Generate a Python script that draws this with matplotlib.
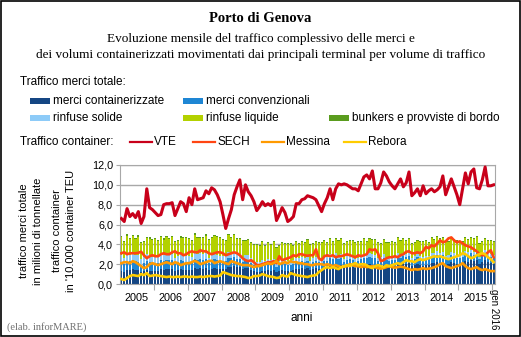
import numpy as np
import matplotlib
matplotlib.use("Agg")
import matplotlib.pyplot as plt
from matplotlib.patches import Rectangle
from matplotlib.lines import Line2D

# anni sull'asse x (etichette centrate sull'anno)
years = ["2005", "2006", "2007", "2008", "2009", "2010",
         "2011", "2012", "2013", "2014", "2015"]
last_label = "gen 2016"

# traffico merci totale, milioni di tonnellate (gen 2005 - gen 2016)
containerizzate = [
    1.3, 1.2, 1.4, 1.4, 1.5, 1.4, 1.4, 1.2, 1.3, 1.4, 1.3, 1.3,
    1.3, 1.3, 1.5, 1.4, 1.5, 1.5, 1.5, 1.3, 1.4, 1.5, 1.4, 1.4,
    1.4, 1.4, 1.6, 1.5, 1.6, 1.5, 1.6, 1.4, 1.5, 1.6, 1.5, 1.5,
    1.5, 1.5, 1.7, 1.7, 1.8, 1.7, 1.7, 1.5, 1.6, 1.6, 1.4, 1.3,
    1.2, 1.2, 1.3, 1.3, 1.4, 1.3, 1.4, 1.2, 1.3, 1.4, 1.3, 1.3,
    1.3, 1.4, 1.5, 1.5, 1.6, 1.5, 1.6, 1.4, 1.5, 1.6, 1.5, 1.5,
    1.6, 1.6, 1.8, 1.8, 1.9, 1.8, 1.9, 1.6, 1.7, 1.8, 1.7, 1.6,
    1.7, 1.8, 1.9, 1.9, 2.0, 1.9, 1.9, 1.7, 1.8, 1.9, 1.8, 1.7,
    1.8, 1.8, 2.0, 1.9, 2.1, 2.0, 2.1, 1.8, 1.9, 2.0, 1.9, 1.8,
    1.9, 1.9, 2.1, 2.1, 2.2, 2.1, 2.2, 1.9, 2.0, 2.2, 2.1, 2.0,
    2.0, 2.1, 2.3, 2.2, 2.4, 2.3, 2.4, 2.0, 2.2, 2.4, 2.2, 2.1,
    2.0]
convenzionali = [
    0.9, 0.8, 0.9, 0.9, 0.9, 0.9, 0.8, 0.7, 0.8, 0.9, 0.9, 0.8,
    0.8, 0.8, 0.9, 0.9, 0.9, 0.9, 0.9, 0.7, 0.8, 0.9, 0.9, 0.8,
    0.8, 0.8, 0.9, 0.9, 0.9, 0.9, 0.9, 0.7, 0.9, 0.9, 0.9, 0.8,
    0.8, 0.8, 0.9, 0.9, 0.9, 0.8, 0.8, 0.7, 0.8, 0.8, 0.7, 0.6,
    0.6, 0.6, 0.7, 0.6, 0.7, 0.7, 0.7, 0.5, 0.6, 0.7, 0.7, 0.6,
    0.6, 0.6, 0.7, 0.7, 0.7, 0.7, 0.7, 0.6, 0.7, 0.7, 0.7, 0.6,
    0.7, 0.7, 0.8, 0.7, 0.8, 0.7, 0.7, 0.6, 0.7, 0.7, 0.7, 0.6,
    0.6, 0.7, 0.7, 0.7, 0.7, 0.7, 0.7, 0.6, 0.6, 0.7, 0.6, 0.6,
    0.6, 0.6, 0.7, 0.7, 0.7, 0.7, 0.7, 0.5, 0.6, 0.7, 0.6, 0.6,
    0.6, 0.6, 0.7, 0.7, 0.7, 0.7, 0.7, 0.6, 0.6, 0.7, 0.7, 0.6,
    0.6, 0.6, 0.7, 0.7, 0.7, 0.6, 0.7, 0.5, 0.6, 0.7, 0.6, 0.6,
    0.6]
rinfuse_solide = [
    0.7, 0.6, 0.7, 0.6, 0.7, 0.6, 0.7, 0.6, 0.6, 0.7, 0.6, 0.6,
    0.6, 0.6, 0.6, 0.6, 0.7, 0.6, 0.6, 0.6, 0.6, 0.6, 0.6, 0.6,
    0.6, 0.5, 0.6, 0.6, 0.6, 0.6, 0.6, 0.5, 0.6, 0.6, 0.5, 0.5,
    0.5, 0.5, 0.6, 0.5, 0.6, 0.5, 0.5, 0.5, 0.5, 0.5, 0.5, 0.4,
    0.4, 0.4, 0.4, 0.4, 0.4, 0.4, 0.4, 0.3, 0.4, 0.4, 0.4, 0.4,
    0.4, 0.4, 0.4, 0.4, 0.4, 0.4, 0.4, 0.3, 0.4, 0.4, 0.4, 0.4,
    0.4, 0.4, 0.4, 0.4, 0.4, 0.4, 0.4, 0.3, 0.4, 0.4, 0.4, 0.3,
    0.3, 0.4, 0.4, 0.3, 0.4, 0.4, 0.3, 0.3, 0.3, 0.4, 0.3, 0.3,
    0.3, 0.3, 0.4, 0.3, 0.3, 0.3, 0.3, 0.3, 0.3, 0.3, 0.3, 0.3,
    0.3, 0.3, 0.3, 0.3, 0.4, 0.3, 0.3, 0.3, 0.3, 0.3, 0.3, 0.3,
    0.3, 0.3, 0.3, 0.3, 0.3, 0.3, 0.3, 0.2, 0.3, 0.3, 0.3, 0.3,
    0.3]
rinfuse_liquide = [
    1.8, 1.6, 1.8, 1.6, 1.7, 1.6, 1.8, 1.6, 1.5, 1.6, 1.7, 1.7,
    1.8, 1.6, 1.7, 1.5, 1.6, 1.5, 1.7, 1.6, 1.5, 1.6, 1.7, 1.8,
    1.7, 1.6, 1.8, 1.6, 1.5, 1.6, 1.7, 1.8, 1.6, 1.7, 1.8, 1.8,
    1.6, 1.5, 1.7, 1.5, 1.6, 1.5, 1.5, 1.6, 1.4, 1.5, 1.5, 1.6,
    1.7, 1.6, 1.8, 1.5, 1.6, 1.5, 1.7, 1.6, 1.5, 1.6, 1.6, 1.7,
    1.7, 1.4, 1.6, 1.4, 1.5, 1.5, 1.7, 1.6, 1.4, 1.5, 1.5, 1.6,
    1.6, 1.4, 1.5, 1.3, 1.4, 1.4, 1.5, 1.5, 1.4, 1.4, 1.5, 1.6,
    1.6, 1.3, 1.5, 1.3, 1.4, 1.4, 1.5, 1.5, 1.3, 1.4, 1.4, 1.5,
    1.5, 1.4, 1.5, 1.4, 1.4, 1.3, 1.4, 1.4, 1.3, 1.3, 1.4, 1.5,
    1.5, 1.3, 1.5, 1.3, 1.4, 1.4, 1.4, 1.4, 1.3, 1.3, 1.3, 1.4,
    1.3, 1.2, 1.3, 1.2, 1.2, 1.3, 1.3, 1.3, 1.1, 1.1, 1.2, 1.3,
    1.3]
bunkers = [
    0.15, 0.1, 0.2, 0.15, 0.1, 0.15, 0.2, 0.1, 0.15, 0.15, 0.2, 0.1,
    0.15, 0.1, 0.15, 0.2, 0.15, 0.1, 0.15, 0.1, 0.15, 0.2, 0.1, 0.15,
    0.15, 0.1, 0.2, 0.15, 0.1, 0.15, 0.2, 0.15, 0.1, 0.15, 0.15, 0.1,
    0.15, 0.1, 0.15, 0.15, 0.1, 0.15, 0.15, 0.1, 0.15, 0.1, 0.15, 0.1,
    0.1, 0.1, 0.15, 0.1, 0.1, 0.15, 0.1, 0.1, 0.15, 0.1, 0.1, 0.1,
    0.1, 0.1, 0.15, 0.1, 0.1, 0.15, 0.1, 0.1, 0.1, 0.15, 0.1, 0.1,
    0.1, 0.1, 0.15, 0.1, 0.1, 0.1, 0.15, 0.1, 0.1, 0.1, 0.15, 0.1,
    0.1, 0.1, 0.15, 0.1, 0.1, 0.1, 0.15, 0.1, 0.1, 0.1, 0.1, 0.15,
    0.1, 0.1, 0.15, 0.1, 0.1, 0.1, 0.15, 0.1, 0.1, 0.1, 0.1, 0.1,
    0.1, 0.1, 0.15, 0.1, 0.1, 0.1, 0.15, 0.1, 0.1, 0.1, 0.1, 0.1,
    0.1, 0.1, 0.15, 0.1, 0.1, 0.1, 0.1, 0.1, 0.1, 0.1, 0.1, 0.1,
    0.1]

# traffico container per terminal, in 10.000 TEU
vte = [
    6.6, 6.3, 7.6, 6.8, 7.1, 6.7, 7.3, 6.1, 6.8, 9.6, 7.7, 7.5,
    7.2, 6.9, 7.0, 8.0, 8.1, 8.1, 8.2, 6.9, 7.6, 8.3, 8.1, 7.3,
    8.7, 8.0, 9.6, 8.5, 8.6, 8.7, 9.4, 9.1, 9.7, 9.5, 9.0, 8.3,
    7.0, 5.6, 6.6, 7.5, 9.0, 9.8, 10.5, 8.5, 10.0, 9.3, 8.9, 8.3,
    7.4, 7.8, 8.3, 7.9, 8.1, 7.9, 8.4, 6.4, 7.0, 7.7, 7.2, 6.3,
    6.5, 6.8, 8.1, 8.1, 8.5, 8.6, 8.9, 8.8, 8.7, 8.5, 7.9, 7.3,
    8.1, 8.7, 9.6, 8.5, 9.6, 10.1, 10.0, 10.1, 10.0, 9.8, 9.6, 9.6,
    9.4, 10.1, 10.8, 11.0, 10.6, 11.4, 9.6, 9.6, 10.2, 11.3, 10.9, 10.3,
    9.9, 9.6, 10.1, 10.6, 9.8, 10.2, 11.3, 8.9, 9.2, 9.6, 8.9, 9.9,
    9.1, 9.4, 9.6, 9.3, 9.5, 9.8, 10.9, 9.0, 9.8, 10.6, 9.8, 9.0,
    8.0, 9.6, 11.2, 10.1, 11.3, 11.6, 9.7, 9.6, 10.5, 11.8, 9.9, 9.9,
    10.0]
sech = [
    3.1, 3.2, 3.0, 3.1, 3.1, 3.1, 3.15, 3.25, 2.9, 2.6, 2.8, 2.9,
    2.8, 2.8, 3.0, 3.1, 3.0, 3.0, 3.2, 3.3, 3.1, 3.1, 2.9, 3.0,
    3.2, 3.3, 3.2, 3.2, 3.4, 3.3, 3.3, 3.1, 3.0, 3.1, 3.2, 3.2,
    3.1, 2.9, 3.0, 3.1, 3.2, 3.1, 2.9, 2.6, 2.4, 2.3, 2.4, 2.2,
    1.9, 1.9, 2.0, 2.1, 2.2, 2.2, 2.3, 2.1, 2.8, 2.4, 2.5, 2.6,
    2.7, 2.9, 2.8, 3.0, 3.0, 2.9, 2.85, 2.9, 2.9, 3.5, 2.6, 2.4,
    2.8, 2.9, 2.8, 2.9, 2.7, 2.8, 2.8, 2.9, 3.0, 2.9, 2.8, 2.7,
    2.9, 2.8, 2.9, 3.0, 3.5, 3.4, 3.5, 3.1, 2.3, 2.4, 2.6, 2.7,
    2.7, 2.8, 2.7, 2.9, 3.0, 3.25, 3.3, 3.1, 3.1, 3.2, 3.1, 3.3,
    3.75, 3.6, 3.9, 3.8, 4.1, 4.4, 4.2, 4.3, 4.6, 4.7, 4.4, 4.2,
    4.3, 4.1, 3.9, 3.8, 3.7, 3.5, 3.3, 3.0, 2.9, 2.9, 3.2, 3.4,
    2.7]
messina = [
    2.1, 2.2, 2.2, 2.1, 2.3, 2.2, 2.0, 1.8, 1.6, 1.7, 2.0, 2.1,
    2.0, 1.9, 2.0, 2.1, 2.2, 2.1, 2.0, 2.2, 2.1, 1.9, 2.0, 2.1,
    2.1, 2.2, 2.35, 2.2, 2.0, 2.1, 2.2, 2.3, 2.35, 2.1, 2.2, 2.3,
    2.2, 2.1, 2.0, 2.3, 2.2, 2.1, 2.0, 1.9, 1.9, 1.9, 1.8, 1.7,
    1.8, 1.8, 1.9, 2.0, 2.1, 2.0, 2.1, 2.3, 2.0, 2.1, 2.2, 2.1,
    2.3, 2.2, 2.2, 2.1, 2.1, 2.0, 2.0, 1.9, 1.9, 2.0, 2.0, 2.0,
    1.9, 2.0, 1.9, 1.8, 1.9, 1.8, 1.7, 1.75, 1.8, 2.0, 1.9, 1.8,
    1.8, 1.7, 1.8, 1.7, 1.75, 1.8, 1.7, 1.6, 1.55, 1.6, 1.7, 1.8,
    1.7, 1.65, 1.7, 1.75, 1.7, 1.6, 1.5, 1.4, 1.5, 1.45, 1.5, 1.6,
    1.5, 1.55, 1.6, 1.7, 1.8, 2.0, 2.1, 1.8, 1.7, 1.6, 1.7, 1.8,
    1.9, 2.1, 1.8, 1.6, 1.5, 1.6, 1.7, 1.5, 1.4, 1.5, 1.4, 1.3,
    1.3]
rebora = [
    0.5, 0.4, 0.6, 0.8, 0.9, 0.85, 0.8, 1.0, 0.9, 1.1, 0.8, 0.85,
    0.9, 0.85, 0.8, 0.75, 0.7, 0.75, 0.7, 0.7, 0.75, 0.7, 0.75, 0.75,
    0.7, 0.75, 0.7, 0.7, 0.75, 0.7, 0.75, 0.8, 0.8, 0.75, 0.8, 0.85,
    1.2, 1.1, 1.0, 0.9, 0.85, 0.8, 0.8, 0.75, 0.7, 0.6, 0.65, 0.8,
    0.8, 0.85, 1.0, 0.9, 0.8, 0.75, 0.7, 0.6, 0.65, 0.9, 0.8, 0.75,
    1.1, 1.0, 0.9, 0.85, 0.8, 0.75, 0.7, 0.8, 0.85, 0.9, 1.2, 1.4,
    1.6, 1.7, 1.6, 1.7, 1.6, 1.5, 1.7, 1.8, 1.9, 1.8, 2.0, 2.1,
    1.9, 2.0, 2.0, 1.9, 1.7, 1.6, 1.8, 1.9, 1.8, 1.7, 1.9, 1.8,
    1.9, 2.0, 2.1, 2.0, 2.2, 2.4, 2.3, 2.3, 2.2, 2.4, 2.5, 2.4,
    2.5, 2.6, 2.7, 2.8, 2.75, 2.8, 2.7, 2.6, 2.5, 2.6, 2.7, 2.8,
    2.9, 3.1, 3.0, 2.8, 2.6, 2.7, 2.9, 3.0, 3.1, 3.0, 2.7, 2.5,
    2.2]

bar_series = [
    ("merci containerizzate", containerizzate, "#154683"),
    ("merci convenzionali", convenzionali, "#1E86D4"),
    ("rinfuse solide", rinfuse_solide, "#8DCBF8"),
    ("rinfuse liquide", rinfuse_liquide, "#B3D100"),
    ("bunkers e provviste di bordo", bunkers, "#5A9C1E"),
]
line_series = [
    ("VTE", vte, "#C8001A", 2.2),
    ("SECH", sech, "#FF4512", 1.9),
    ("Messina", messina, "#FF9A00", 1.9),
    ("Rebora", rebora, "#FFCC00", 1.9),
]

SANS = ["Liberation Sans", "DejaVu Sans"]
SERIF = ["Liberation Serif", "DejaVu Serif"]

fig = plt.figure(figsize=(5.21, 3.37), dpi=100)
W, H = 521.0, 337.0

def fx(px):
    return px / W

def fy(py):
    return 1 - py / H

# cornice esterna
fig.add_artist(Rectangle((fx(0.5), fy(335.5)), fx(519), 334.5 / H,
                         transform=fig.transFigure, fill=False,
                         edgecolor="black", linewidth=1.2))

ax = fig.add_axes([fx(120), fy(284), fx(495) - fx(120), fy(165) - fy(284)])

n = len(vte)
x = np.arange(n)
bottom = np.zeros(n)
for name, vals, col in bar_series:
    vals = np.array(vals)
    ax.bar(x, vals, bottom=bottom, width=0.75, color=col, linewidth=0, zorder=2)
    bottom += vals

for name, vals, col, lw in line_series:
    ax.plot(x, vals, color=col, linewidth=lw, zorder=3, solid_joinstyle="round")

ax.set_xlim(-0.5, n - 0.5)
ax.set_ylim(0, 12)
ax.set_yticks(np.arange(0, 12.1, 2))
ax.set_yticklabels([f"{v:.1f}".replace(".", ",") for v in np.arange(0, 12.1, 2)],
                   fontsize=7.8, family=SANS)
ax.yaxis.grid(True, color="#A8A8A8", linewidth=1.0, zorder=0)
ax.set_axisbelow(True)
for s in ax.spines.values():
    s.set_color("#A8A8A8")
ax.tick_params(axis="y", length=3, color="#A8A8A8", pad=2)

# tacche ai confini d'anno, etichette al centro dell'anno
ticks = [11.5 + 12 * k for k in range(len(years))]
ax.set_xticks(ticks)
ax.set_xticklabels([])
ax.tick_params(axis="x", length=4, color="#A8A8A8")
for k, yr in enumerate(years):
    ax.text(5.5 + 12 * k, -0.9, yr, ha="center", va="top", fontsize=7.8,
            family=SANS, transform=ax.transData)
ax.text(n - 1, -0.5, last_label, ha="center", va="top", rotation=-90,
        fontsize=7, family=SANS)

fig.text(fx(302), fy(318), "anni", ha="center", va="center", fontsize=8.5, family=SANS)

# etichette asse y
fig.text(fx(24), fy(231), "traffico merci totale", rotation=90, ha="center",
         va="center", fontsize=8, family=SANS)
fig.text(fx(38), fy(231), "in milioni di tonnellate", rotation=90, ha="center",
         va="center", fontsize=8, family=SANS)
fig.text(fx(57), fy(231), "traffico container", rotation=90, ha="center",
         va="center", fontsize=8, family=SANS)
fig.text(fx(71), fy(231), "in '10.000 container TEU", rotation=90, ha="center",
         va="center", fontsize=8, family=SANS)

# titoli
fig.text(0.5, fy(18), "Porto di Genova", ha="center", va="center",
         fontsize=10.5, fontweight="bold", family=SERIF)
fig.text(0.5, fy(39), "Evoluzione mensile del traffico complessivo delle merci e",
         ha="center", va="center", fontsize=9.5, family=SERIF)
fig.text(0.5, fy(55), "dei volumi containerizzati movimentati dai principali terminal per volume di traffico",
         ha="center", va="center", fontsize=9.5, family=SERIF)

# legenda merci
fig.text(fx(20), fy(82), "Traffico merci totale:", ha="left", va="center",
         fontsize=8.5, family=SANS)
leg_pos = [(30, 101), (183, 101), (30, 118), (183, 118), (329, 118)]
for (name, vals, col), (px, py) in zip(bar_series, leg_pos):
    fig.add_artist(Rectangle((fx(px), fy(py + 3)), fx(20), 6 / H,
                             transform=fig.transFigure, color=col, linewidth=0))
    fig.text(fx(px + 23), fy(py), name, ha="left", va="center",
             fontsize=8.5, family=SANS)

# legenda container
fig.text(fx(20), fy(142), "Traffico container:", ha="left", va="center",
         fontsize=8.5, family=SANS)
line_pos = [130, 193, 262, 344]
for (name, vals, col, lw), px in zip(line_series, line_pos):
    fig.add_artist(Line2D([fx(px), fx(px + 22)], [fy(142), fy(142)],
                          transform=fig.transFigure, color=col, linewidth=1.6))
    fig.text(fx(px + 24), fy(142), name, ha="left", va="center",
             fontsize=8.5, family=SANS)

fig.text(fx(7), fy(327), "(elab. inforMARE)", ha="left", va="center",
         fontsize=7.5, color="#707070", family=SERIF)

fig.savefig("out.png", dpi=100)
